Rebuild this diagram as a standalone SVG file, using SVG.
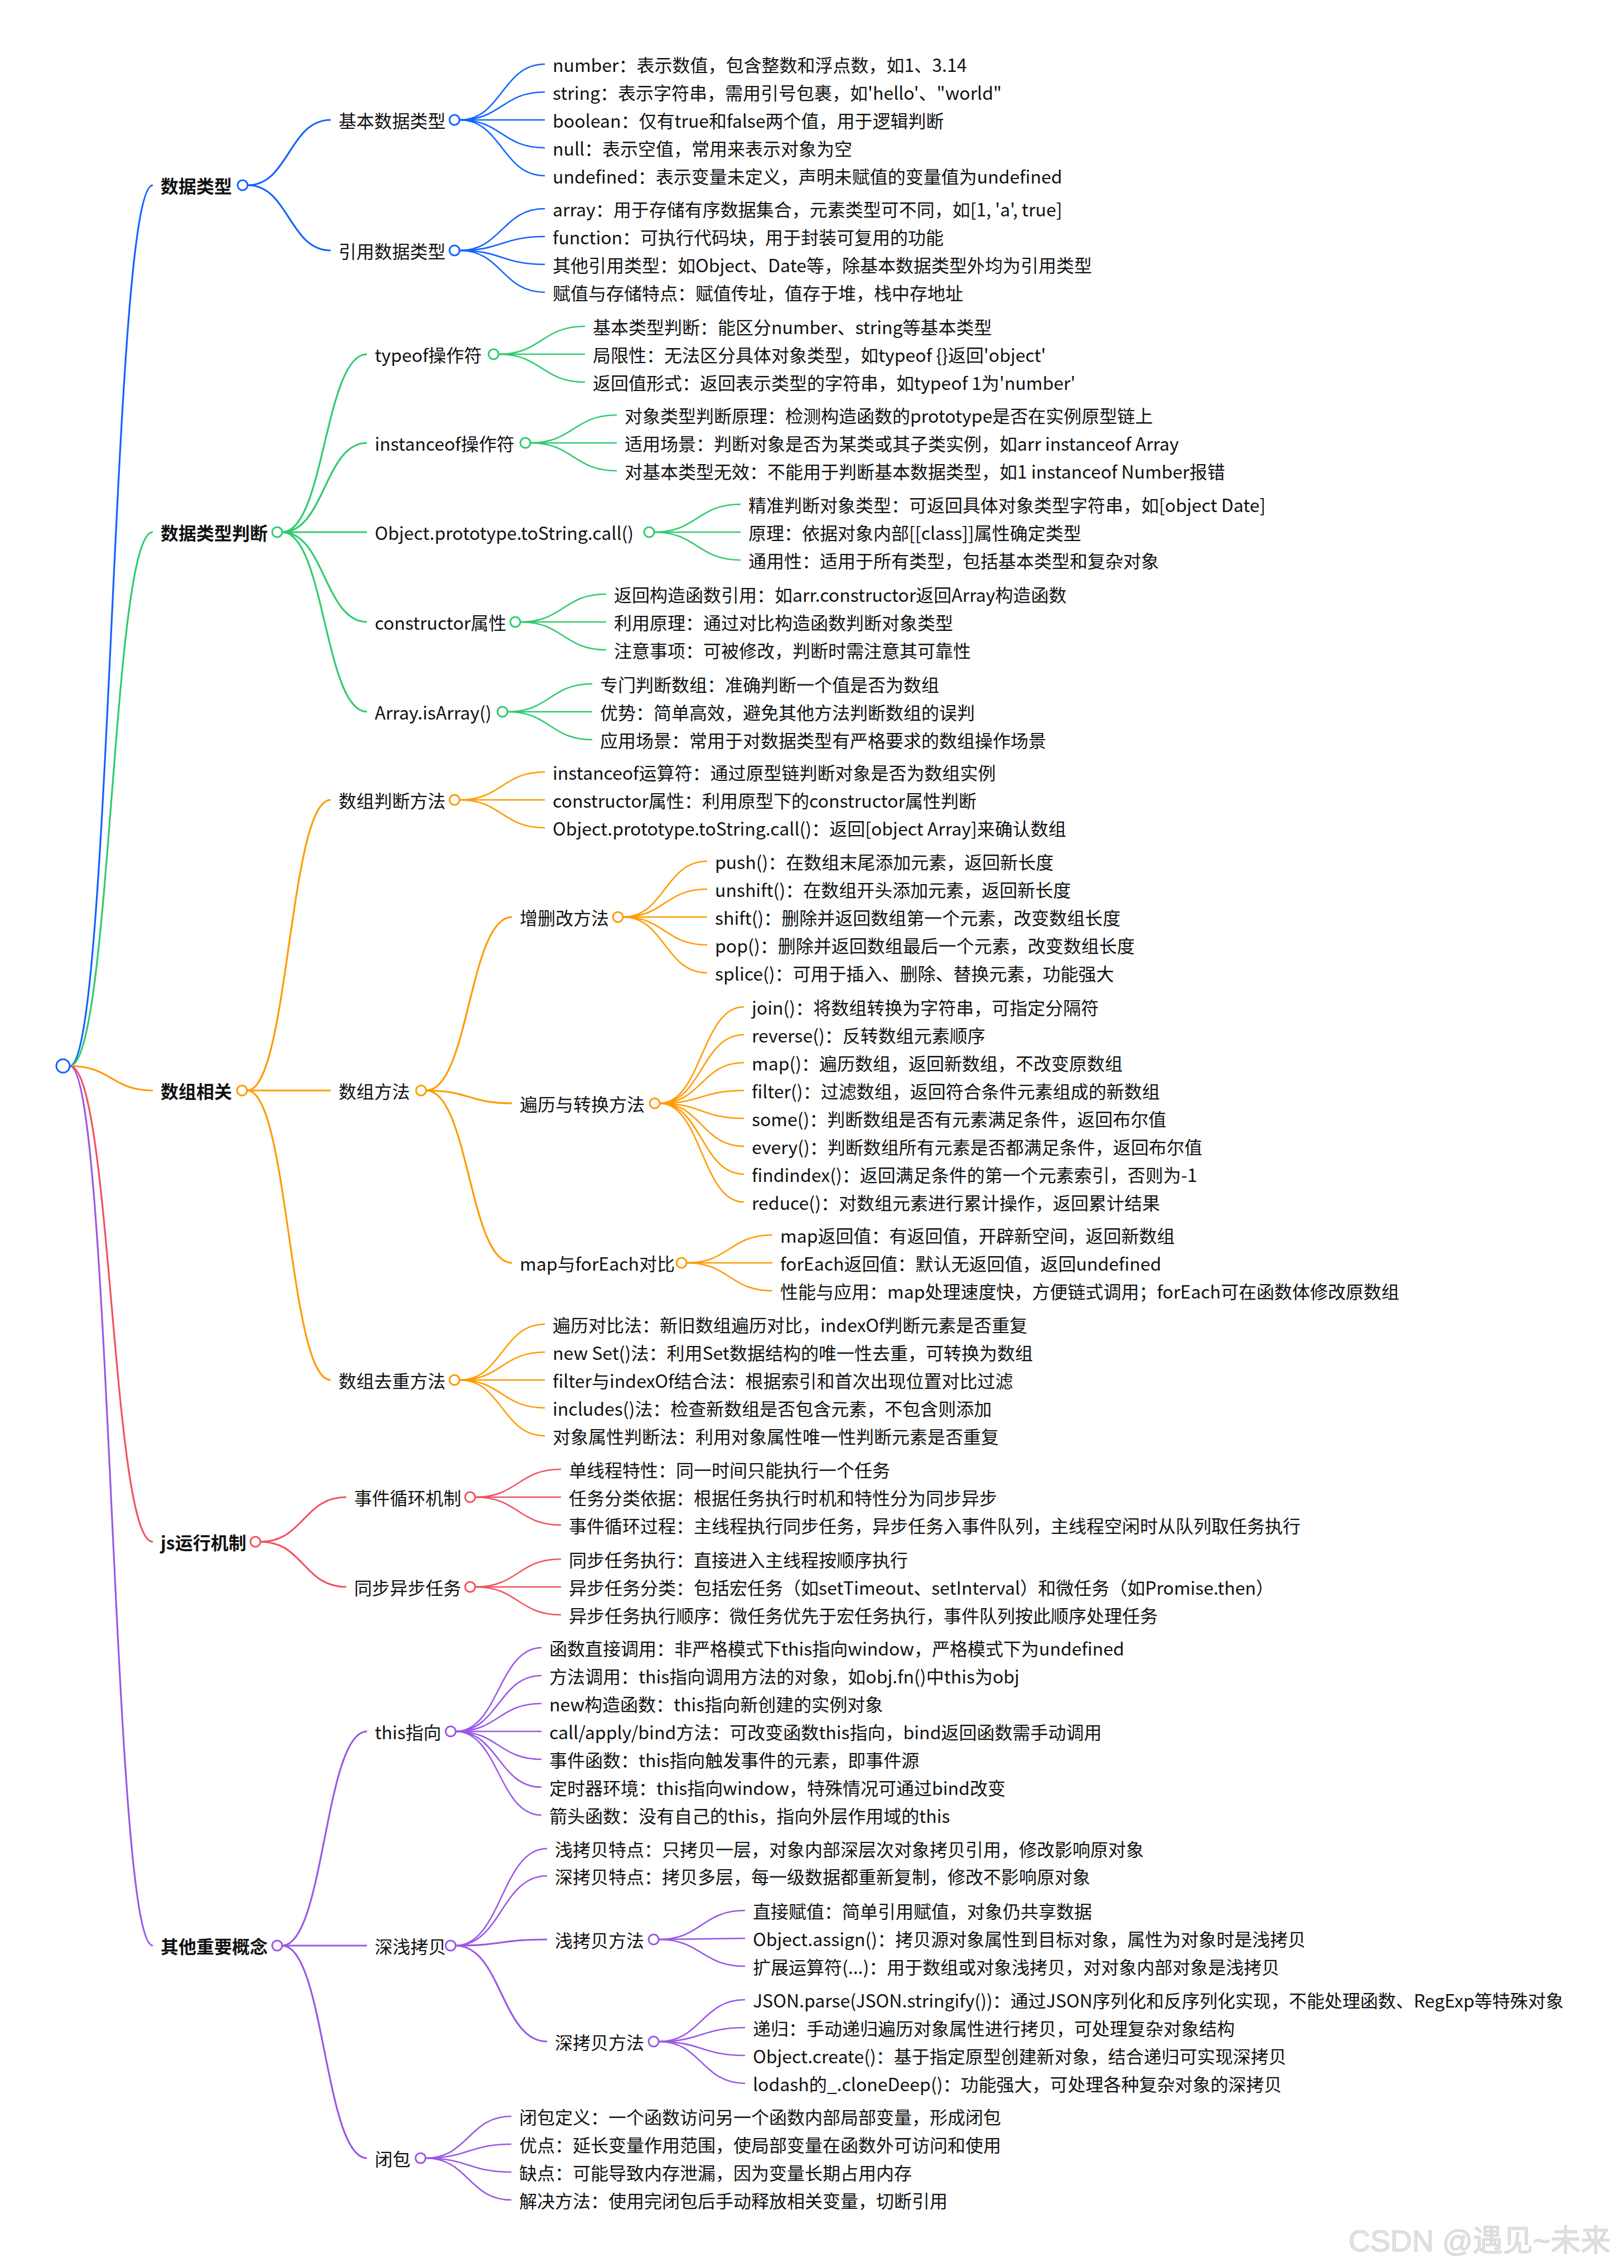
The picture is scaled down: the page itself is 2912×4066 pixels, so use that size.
<svg xmlns="http://www.w3.org/2000/svg" width="2912" height="4066" viewBox="0 0 2912 4066">
<style>
text{font-family:"Noto Sans CJK SC","Noto Sans",sans-serif;font-size:32px;fill:#111;dominant-baseline:central}
.h{font-weight:bold}
path{fill:none;stroke-width:2.6}
.e1{stroke-width:3.2}
circle{fill:#fff;stroke-width:3}
.b{stroke:#1463ff}.g{stroke:#2fcb6f}.o{stroke:#ff9b00}.r{stroke:#f2525f}.p{stroke:#9b57e6}
.wm{font-family:"Liberation Sans","Noto Sans CJK SC",sans-serif;font-size:54px;fill:#e2e2e2;stroke:#cfcfcf;stroke-width:1;dominant-baseline:auto}
</style>
<rect width="2912" height="4066" fill="#fff"/>
<g id="connectors">
<path class="e1 b" d="M125 1911C200 1911 200 332 274 332"/>
<path class="e1 g" d="M125 1911C200 1911 200 954 274 954"/>
<path class="e1 o" d="M125 1911C200 1911 200 1955 274 1955"/>
<path class="e1 r" d="M125 1911C200 1911 200 2764 274 2764"/>
<path class="e1 p" d="M125 1911C200 1911 200 3488 274 3488"/>
<g class="b">
<path class="e1" d="M444 332C518 332 518 215 593 215"/>
<path class="e1" d="M444 332C518 332 518 449 593 449"/>
<path d="M824 215C900 215 900 115 977 115"/><path d="M824 215C900 215 900 165 977 165"/><path d="M824 215L977 215"/><path d="M824 215C900 215 900 265 977 265"/><path d="M824 215C900 215 900 315 977 315"/>
<path d="M824 449C900 449 900 374 977 374"/><path d="M824 449C900 449 900 424 977 424"/><path d="M824 449C900 449 900 474 977 474"/><path d="M824 449C900 449 900 524 977 524"/>
</g>
<g class="g">
<path class="e1" d="M506 954C582 954 582 635 658 635"/><path class="e1" d="M506 954C582 954 582 794 658 794"/><path class="e1" d="M506 954L658 954"/><path class="e1" d="M506 954C582 954 582 1115 658 1115"/><path class="e1" d="M506 954C582 954 582 1276 658 1276"/>
<path d="M894 635C971 635 971 585 1049 585"/><path d="M894 635L1049 635"/><path d="M894 635C971 635 971 685 1049 685"/>
<path d="M951 794C1028 794 1028 744 1106 744"/><path d="M951 794L1106 794"/><path d="M951 794C1028 794 1028 844 1106 844"/>
<path d="M1173 954C1250 954 1250 904 1328 904"/><path d="M1173 954L1328 954"/><path d="M1173 954C1250 954 1250 1004 1328 1004"/>
<path d="M933 1115C1010 1115 1010 1065 1087 1065"/><path d="M933 1115L1087 1115"/><path d="M933 1115C1010 1115 1010 1165 1087 1165"/>
<path d="M910 1276C986 1276 986 1226 1062 1226"/><path d="M910 1276L1062 1276"/><path d="M910 1276C986 1276 986 1326 1062 1326"/>
</g>
<g class="o">
<path class="e1" d="M443 1955C518 1955 518 1434 593 1434"/><path class="e1" d="M443 1955L593 1955"/><path class="e1" d="M443 1955C518 1955 518 2474 593 2474"/>
<path d="M824 1434C900 1434 900 1384 977 1384"/><path d="M824 1434L977 1434"/><path d="M824 1434C900 1434 900 1484 977 1484"/>
<path class="e1" d="M764 1955C841 1955 841 1644 918 1644"/><path class="e1" d="M764 1955C841 1955 841 1978 918 1978"/><path class="e1" d="M764 1955C841 1955 841 2264 918 2264"/>
<path d="M1117 1644C1192 1644 1192 1544 1268 1544"/><path d="M1117 1644C1192 1644 1192 1594 1268 1594"/><path d="M1117 1644L1268 1644"/><path d="M1117 1644C1192 1644 1192 1694 1268 1694"/><path d="M1117 1644C1192 1644 1192 1744 1268 1744"/>
<path d="M1183 1978C1258 1978 1258 1805 1334 1805"/><path d="M1183 1978C1258 1978 1258 1855 1334 1855"/><path d="M1183 1978C1258 1978 1258 1905 1334 1905"/><path d="M1183 1978C1258 1978 1258 1955 1334 1955"/><path d="M1183 1978C1258 1978 1258 2005 1334 2005"/><path d="M1183 1978C1258 1978 1258 2055 1334 2055"/><path d="M1183 1978C1258 1978 1258 2105 1334 2105"/><path d="M1183 1978C1258 1978 1258 2155 1334 2155"/>
<path d="M1231 2264C1308 2264 1308 2214 1385 2214"/><path d="M1231 2264L1385 2264"/><path d="M1231 2264C1308 2264 1308 2314 1385 2314"/>
<path d="M824 2474C900 2474 900 2374 977 2374"/><path d="M824 2474C900 2474 900 2424 977 2424"/><path d="M824 2474L977 2474"/><path d="M824 2474C900 2474 900 2524 977 2524"/><path d="M824 2474C900 2474 900 2574 977 2574"/>
</g>
<g class="r">
<path class="e1" d="M467 2764C544 2764 544 2684 621 2684"/><path class="e1" d="M467 2764C544 2764 544 2845 621 2845"/>
<path d="M852 2684C929 2684 929 2634 1006 2634"/><path d="M852 2684L1006 2684"/><path d="M852 2684C929 2684 929 2734 1006 2734"/>
<path d="M852 2845C929 2845 929 2795 1006 2795"/><path d="M852 2845L1006 2845"/><path d="M852 2845C929 2845 929 2895 1006 2895"/>
</g>
<g class="p">
<path class="e1" d="M506 3488C582 3488 582 3104 658 3104"/><path class="e1" d="M506 3488L658 3488"/><path class="e1" d="M506 3488C582 3488 582 3869 658 3869"/>
<path d="M817 3104C894 3104 894 2954 971 2954"/><path d="M817 3104C894 3104 894 3004 971 3004"/><path d="M817 3104C894 3104 894 3054 971 3054"/><path d="M817 3104L971 3104"/><path d="M817 3104C894 3104 894 3154 971 3154"/><path d="M817 3104C894 3104 894 3204 971 3204"/><path d="M817 3104C894 3104 894 3254 971 3254"/>
<path d="M817 3488C899 3488 899 3314 981 3314"/><path d="M817 3488C899 3488 899 3363 981 3363"/><path class="e1" d="M817 3488C899 3488 899 3477 981 3477"/><path class="e1" d="M817 3488C899 3488 899 3660 981 3660"/>
<path d="M1181 3477C1258 3477 1258 3425 1336 3425"/><path d="M1181 3477L1336 3475"/><path d="M1181 3477C1258 3477 1258 3525 1336 3525"/>
<path d="M1181 3660C1258 3660 1258 3585 1336 3585"/><path d="M1181 3660C1258 3660 1258 3635 1336 3635"/><path d="M1181 3660C1258 3660 1258 3685 1336 3685"/><path d="M1181 3660C1258 3660 1258 3735 1336 3735"/>
<path d="M763 3869C840 3869 840 3794 917 3794"/><path d="M763 3869C840 3869 840 3844 917 3844"/><path d="M763 3869C840 3869 840 3894 917 3894"/><path d="M763 3869C840 3869 840 3944 917 3944"/>
</g>
</g>
<g id="root"><circle class="b" cx="113" cy="1911" r="12"/></g>
<g id="n-datatype"><text class="h" x="288" y="332">数据类型</text><circle class="b" cx="435" cy="332" r="9"/></g>
<g id="n-basic"><text x="607" y="215">基本数据类型</text><circle class="b" cx="815" cy="215" r="9"/>
<text x="991" y="115">number：表示数值，包含整数和浮点数，如1、3.14</text>
<text x="991" y="165">string：表示字符串，需用引号包裹，如'hello'、"world"</text>
<text x="991" y="215">boolean：仅有true和false两个值，用于逻辑判断</text>
<text x="991" y="265">null：表示空值，常用来表示对象为空</text>
<text x="991" y="315">undefined：表示变量未定义，声明未赋值的变量值为undefined</text></g>
<g id="n-ref"><text x="607" y="449">引用数据类型</text><circle class="b" cx="815" cy="449" r="9"/>
<text x="991" y="374">array：用于存储有序数据集合，元素类型可不同，如[1, 'a', true]</text>
<text x="991" y="424">function：可执行代码块，用于封装可复用的功能</text>
<text x="991" y="474">其他引用类型：如Object、Date等，除基本数据类型外均为引用类型</text>
<text x="991" y="524">赋值与存储特点：赋值传址，值存于堆，栈中存地址</text></g>
<g id="n-judge"><text class="h" x="288" y="954">数据类型判断</text><circle class="g" cx="497" cy="954" r="9"/></g>
<g id="n-typeof"><text x="672" y="635">typeof操作符</text><circle class="g" cx="885" cy="635" r="9"/>
<text x="1063" y="585">基本类型判断：能区分number、string等基本类型</text>
<text x="1063" y="635">局限性：无法区分具体对象类型，如typeof {}返回'object'</text>
<text x="1063" y="685">返回值形式：返回表示类型的字符串，如typeof 1为'number'</text></g>
<g id="n-instanceof"><text x="672" y="794">instanceof操作符</text><circle class="g" cx="942" cy="794" r="9"/>
<text x="1120" y="744">对象类型判断原理：检测构造函数的prototype是否在实例原型链上</text>
<text x="1120" y="794">适用场景：判断对象是否为某类或其子类实例，如arr instanceof Array</text>
<text x="1120" y="844">对基本类型无效：不能用于判断基本数据类型，如1 instanceof Number报错</text></g>
<g id="n-tostring"><text x="672" y="954">Object.prototype.toString.call()</text><circle class="g" cx="1164" cy="954" r="9"/>
<text x="1342" y="904">精准判断对象类型：可返回具体对象类型字符串，如[object Date]</text>
<text x="1342" y="954">原理：依据对象内部[[class]]属性确定类型</text>
<text x="1342" y="1004">通用性：适用于所有类型，包括基本类型和复杂对象</text></g>
<g id="n-constructor"><text x="672" y="1115">constructor属性</text><circle class="g" cx="924" cy="1115" r="9"/>
<text x="1101" y="1065">返回构造函数引用：如arr.constructor返回Array构造函数</text>
<text x="1101" y="1115">利用原理：通过对比构造函数判断对象类型</text>
<text x="1101" y="1165">注意事项：可被修改，判断时需注意其可靠性</text></g>
<g id="n-isarray"><text x="672" y="1276">Array.isArray()</text><circle class="g" cx="901" cy="1276" r="9"/>
<text x="1076" y="1226">专门判断数组：准确判断一个值是否为数组</text>
<text x="1076" y="1276">优势：简单高效，避免其他方法判断数组的误判</text>
<text x="1076" y="1326">应用场景：常用于对数据类型有严格要求的数组操作场景</text></g>
<g id="n-array"><text class="h" x="288" y="1955">数组相关</text><circle class="o" cx="434" cy="1955" r="9"/></g>
<g id="n-arrjudge"><text x="607" y="1434">数组判断方法</text><circle class="o" cx="815" cy="1434" r="9"/>
<text x="991" y="1384">instanceof运算符：通过原型链判断对象是否为数组实例</text>
<text x="991" y="1434">constructor属性：利用原型下的constructor属性判断</text>
<text x="991" y="1484">Object.prototype.toString.call()：返回[object Array]来确认数组</text></g>
<g id="n-arrmethod"><text x="607" y="1955">数组方法</text><circle class="o" cx="755" cy="1955" r="9"/></g>
<g id="n-crud"><text x="932" y="1644">增删改方法</text><circle class="o" cx="1108" cy="1644" r="9"/>
<text x="1282" y="1544">push()：在数组末尾添加元素，返回新长度</text>
<text x="1282" y="1594">unshift()：在数组开头添加元素，返回新长度</text>
<text x="1282" y="1644">shift()：删除并返回数组第一个元素，改变数组长度</text>
<text x="1282" y="1694">pop()：删除并返回数组最后一个元素，改变数组长度</text>
<text x="1282" y="1744">splice()：可用于插入、删除、替换元素，功能强大</text></g>
<g id="n-iter"><text x="932" y="1978">遍历与转换方法</text><circle class="o" cx="1174" cy="1978" r="9"/>
<text x="1348" y="1805">join()：将数组转换为字符串，可指定分隔符</text>
<text x="1348" y="1855">reverse()：反转数组元素顺序</text>
<text x="1348" y="1905">map()：遍历数组，返回新数组，不改变原数组</text>
<text x="1348" y="1955">filter()：过滤数组，返回符合条件元素组成的新数组</text>
<text x="1348" y="2005">some()：判断数组是否有元素满足条件，返回布尔值</text>
<text x="1348" y="2055">every()：判断数组所有元素是否都满足条件，返回布尔值</text>
<text x="1348" y="2105">findindex()：返回满足条件的第一个元素索引，否则为-1</text>
<text x="1348" y="2155">reduce()：对数组元素进行累计操作，返回累计结果</text></g>
<g id="n-mapforeach"><text x="932" y="2264">map与forEach对比</text><circle class="o" cx="1222" cy="2264" r="9"/>
<text x="1399" y="2214">map返回值：有返回值，开辟新空间，返回新数组</text>
<text x="1399" y="2264">forEach返回值：默认无返回值，返回undefined</text>
<text x="1399" y="2314">性能与应用：map处理速度快，方便链式调用；forEach可在函数体修改原数组</text></g>
<g id="n-dedup"><text x="607" y="2474">数组去重方法</text><circle class="o" cx="815" cy="2474" r="9"/>
<text x="991" y="2374">遍历对比法：新旧数组遍历对比，indexOf判断元素是否重复</text>
<text x="991" y="2424">new Set()法：利用Set数据结构的唯一性去重，可转换为数组</text>
<text x="991" y="2474">filter与indexOf结合法：根据索引和首次出现位置对比过滤</text>
<text x="991" y="2524">includes()法：检查新数组是否包含元素，不包含则添加</text>
<text x="991" y="2574">对象属性判断法：利用对象属性唯一性判断元素是否重复</text></g>
<g id="n-js"><text class="h" x="288" y="2764">js运行机制</text><circle class="r" cx="458" cy="2764" r="9"/></g>
<g id="n-loop"><text x="635" y="2684">事件循环机制</text><circle class="r" cx="843" cy="2684" r="9"/>
<text x="1020" y="2634">单线程特性：同一时间只能执行一个任务</text>
<text x="1020" y="2684">任务分类依据：根据任务执行时机和特性分为同步异步</text>
<text x="1020" y="2734">事件循环过程：主线程执行同步任务，异步任务入事件队列，主线程空闲时从队列取任务执行</text></g>
<g id="n-async"><text x="635" y="2845">同步异步任务</text><circle class="r" cx="843" cy="2845" r="9"/>
<text x="1020" y="2795">同步任务执行：直接进入主线程按顺序执行</text>
<text x="1020" y="2845">异步任务分类：包括宏任务（如setTimeout、setInterval）和微任务（如Promise.then）</text>
<text x="1020" y="2895">异步任务执行顺序：微任务优先于宏任务执行，事件队列按此顺序处理任务</text></g>
<g id="n-other"><text class="h" x="288" y="3488">其他重要概念</text><circle class="p" cx="497" cy="3488" r="9"/></g>
<g id="n-this"><text x="672" y="3104">this指向</text><circle class="p" cx="808" cy="3104" r="9"/>
<text x="985" y="2954">函数直接调用：非严格模式下this指向window，严格模式下为undefined</text>
<text x="985" y="3004">方法调用：this指向调用方法的对象，如obj.fn()中this为obj</text>
<text x="985" y="3054">new构造函数：this指向新创建的实例对象</text>
<text x="985" y="3104">call/apply/bind方法：可改变函数this指向，bind返回函数需手动调用</text>
<text x="985" y="3154">事件函数：this指向触发事件的元素，即事件源</text>
<text x="985" y="3204">定时器环境：this指向window，特殊情况可通过bind改变</text>
<text x="985" y="3254">箭头函数：没有自己的this，指向外层作用域的this</text></g>
<g id="n-copy"><text x="672" y="3488">深浅拷贝</text><circle class="p" cx="808" cy="3488" r="9"/>
<text x="995" y="3314">浅拷贝特点：只拷贝一层，对象内部深层次对象拷贝引用，修改影响原对象</text>
<text x="995" y="3363">深拷贝特点：拷贝多层，每一级数据都重新复制，修改不影响原对象</text></g>
<g id="n-shallow"><text x="995" y="3477">浅拷贝方法</text><circle class="p" cx="1172" cy="3477" r="9"/>
<text x="1350" y="3425">直接赋值：简单引用赋值，对象仍共享数据</text>
<text x="1350" y="3475">Object.assign()：拷贝源对象属性到目标对象，属性为对象时是浅拷贝</text>
<text x="1350" y="3525">扩展运算符(...)：用于数组或对象浅拷贝，对对象内部对象是浅拷贝</text></g>
<g id="n-deep"><text x="995" y="3660">深拷贝方法</text><circle class="p" cx="1172" cy="3660" r="9"/>
<text x="1350" y="3585">JSON.parse(JSON.stringify())：通过JSON序列化和反序列化实现，不能处理函数、RegExp等特殊对象</text>
<text x="1350" y="3635">递归：手动递归遍历对象属性进行拷贝，可处理复杂对象结构</text>
<text x="1350" y="3685">Object.create()：基于指定原型创建新对象，结合递归可实现深拷贝</text>
<text x="1350" y="3735">lodash的_.cloneDeep()：功能强大，可处理各种复杂对象的深拷贝</text></g>
<g id="n-closure"><text x="672" y="3869">闭包</text><circle class="p" cx="754" cy="3869" r="9"/>
<text x="931" y="3794">闭包定义：一个函数访问另一个函数内部局部变量，形成闭包</text>
<text x="931" y="3844">优点：延长变量作用范围，使局部变量在函数外可访问和使用</text>
<text x="931" y="3894">缺点：可能导致内存泄漏，因为变量长期占用内存</text>
<text x="931" y="3944">解决方法：使用完闭包后手动释放相关变量，切断引用</text></g>
<text class="wm" x="2418" y="4036">CSDN @遇见~未来</text>
</svg>
